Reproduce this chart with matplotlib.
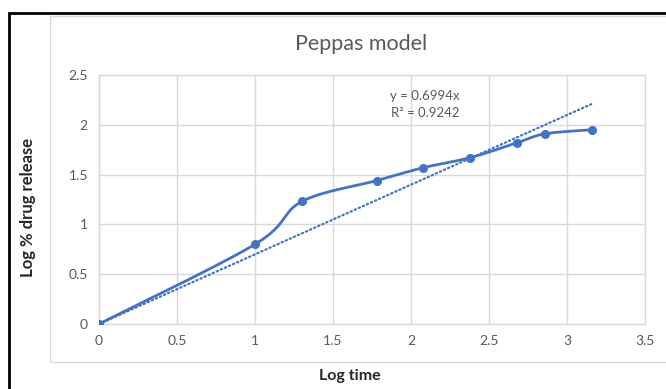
import numpy as np
import matplotlib.pyplot as plt
from matplotlib.patches import Rectangle

# Peppas model data: log time vs log % drug release
log_time = [0, 1.0, 1.30, 1.78, 2.08, 2.38, 2.68, 2.86, 3.16]
log_release = [0, 0.80, 1.23, 1.44, 1.57, 1.67, 1.82, 1.91, 1.95]
slope = 0.6994
r2 = 0.9242

x_ticks = [0, 0.5, 1, 1.5, 2, 2.5, 3, 3.5]
y_ticks = [0, 0.5, 1, 1.5, 2, 2.5]

blue = '#4472C4'
grey_txt = '#595959'
plt.rcParams['font.family'] = ['Lato', 'DejaVu Sans']


def smooth(xs, ys, n=30):
    # cubic bezier segments with catmull-rom style control points
    xs = np.asarray(xs, float)
    ys = np.asarray(ys, float)
    px = np.concatenate([[xs[0]], xs, [xs[-1]]])
    py = np.concatenate([[ys[0]], ys, [ys[-1]]])
    outx, outy = [], []
    t = np.linspace(0, 1, n)
    for i in range(1, len(px) - 2):
        p0 = np.array([px[i], py[i]])
        p3 = np.array([px[i + 1], py[i + 1]])
        p1 = p0 + (np.array([px[i + 1], py[i + 1]]) - np.array([px[i - 1], py[i - 1]])) / 6
        p2 = p3 - (np.array([px[i + 2], py[i + 2]]) - np.array([px[i], py[i]])) / 6
        b = ((1 - t) ** 3)[:, None] * p0 + (3 * (1 - t) ** 2 * t)[:, None] * p1 \
            + (3 * (1 - t) * t ** 2)[:, None] * p2 + (t ** 3)[:, None] * p3
        outx.extend(b[:, 0])
        outy.extend(b[:, 1])
    return outx, outy


fig = plt.figure(figsize=(6.66, 3.89), dpi=100)
fig.patch.set_facecolor('white')

# outer frame and chart area border
fig.add_artist(Rectangle((9 / 666, -0.05), 1.1, 1 - 12.5 / 389 + 0.05,
                         transform=fig.transFigure, fill=False,
                         edgecolor='black', lw=2))
fig.add_artist(Rectangle((50 / 666, 1 - 362 / 389), 1.0, (362 - 16) / 389,
                         transform=fig.transFigure, fill=False,
                         edgecolor='#D9D9D9', lw=1))

ax = fig.add_axes([99 / 666, 1 - 324 / 389, 546 / 666, 249 / 389])
ax.set_xlim(0, 3.5)
ax.set_ylim(0, 2.5)
ax.set_xticks(x_ticks)
ax.set_yticks(y_ticks)
ax.set_xticklabels([f'{v:g}' for v in x_ticks])
ax.set_yticklabels([f'{v:g}' for v in y_ticks])
ax.grid(True, color='#D9D9D9', lw=1)
ax.set_axisbelow(True)
for s in ax.spines.values():
    s.set_color('#D9D9D9')
    s.set_linewidth(1)
ax.tick_params(length=0, labelsize=10, labelcolor=grey_txt, pad=8)

sx, sy = smooth(log_time, log_release)
ax.plot(sx, sy, color=blue, lw=2, solid_capstyle='round', zorder=3)
ax.plot(log_time, log_release, 'o', color=blue, ms=5.5, zorder=4)

# linear trendline through origin
tx = np.array([0, log_time[-1]])
ax.plot(tx, slope * tx, color=blue, lw=1.6, linestyle=(0, (0.6, 1.4)),
        dash_capstyle='round', zorder=2)

ax.text(2.09, 2.29, f'y = {slope}x', ha='center', va='center',
        fontsize=9.5, color=grey_txt)
ax.text(2.09, 2.12, f'R² = {r2}', ha='center', va='center',
        fontsize=9.5, color=grey_txt)

fig.text(361 / 666, 1 - 44 / 389, 'Peppas model', ha='center', va='center',
         fontsize=15.5, color=grey_txt)
fig.text(350 / 666, 1 - 376 / 389, 'Log time', ha='center', va='center',
         fontsize=11.5, fontweight='bold', color='#262626')
fig.text(28 / 666, 1 - 207 / 389, 'Log % drug release', ha='center',
         va='center', rotation=90, fontsize=12, fontweight='bold',
         color='#262626')

fig.savefig('out.png', dpi=100)
